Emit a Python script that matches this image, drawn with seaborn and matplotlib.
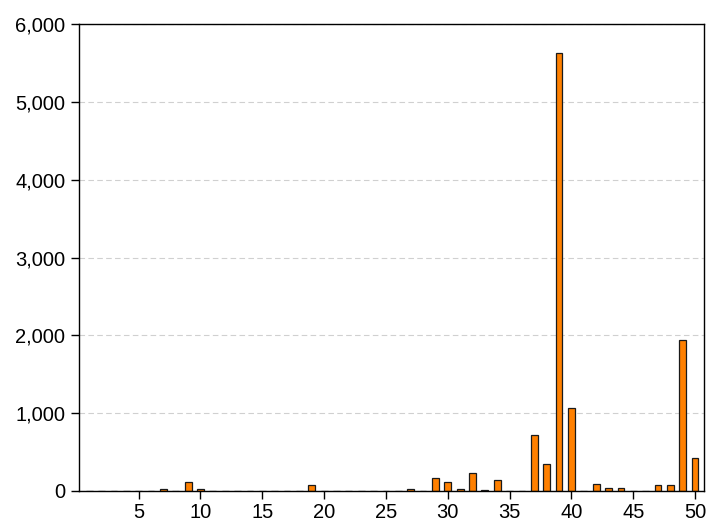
import matplotlib
matplotlib.use("Agg")
import matplotlib.pyplot as plt
import seaborn as sns
import numpy as np
from matplotlib.ticker import FuncFormatter

sns.set_theme(style="white")
plt.rcParams['font.family'] = ['Liberation Sans', 'DejaVu Sans']

positions = list(range(1, 51))
values = [0, 0, 0, 0, 0, 0, 20, 0, 120, 22,
          0, 0, 0, 0, 0, 0, 0, 0, 77, 0,
          0, 0, 0, 0, 0, 0, 20, 0, 171, 111,
          25, 231, 17, 145, 0, 0, 715, 351, 5628, 1062,
          0, 90, 43, 34, 0, 0, 81, 77, 1940, 420]
x_ticks = [5, 10, 15, 20, 25, 30, 35, 40, 45, 50]
y_ticks = [0, 1000, 2000, 3000, 4000, 5000, 6000]

fig = plt.figure(figsize=(7.08, 5.24), dpi=100)
ax = fig.add_axes([0.112, 0.063, 0.882, 0.891])

ax.grid(axis='y', color='#d0d0d0', linestyle=(0, (5, 3)), linewidth=0.8)
ax.set_axisbelow(True)

sns.barplot(x=positions, y=values, native_scale=True, width=0.55,
            color='#ff8000', saturation=1, edgecolor='#1a1a1a', linewidth=0.9, ax=ax)

ax.set_xlim(0.2, 50.7)
ax.set_ylim(0, 6000)
ax.set_xticks(x_ticks)
ax.set_yticks(y_ticks)
ax.yaxis.set_major_formatter(FuncFormatter(lambda v, p: f"{int(v):,}"))
for s in ax.spines.values():
    s.set_visible(True)
    s.set_color('black')
    s.set_linewidth(1.0)
ax.tick_params(axis='both', which='both', direction='out', length=6, width=1,
               color='black', labelsize=14.5, labelcolor='black', bottom=True, left=True)
ax.tick_params(axis='y', pad=4)
ax.tick_params(axis='x', pad=3)
ax.set_xlabel('')
ax.set_ylabel('')

fig.savefig('out.png', dpi=100)
